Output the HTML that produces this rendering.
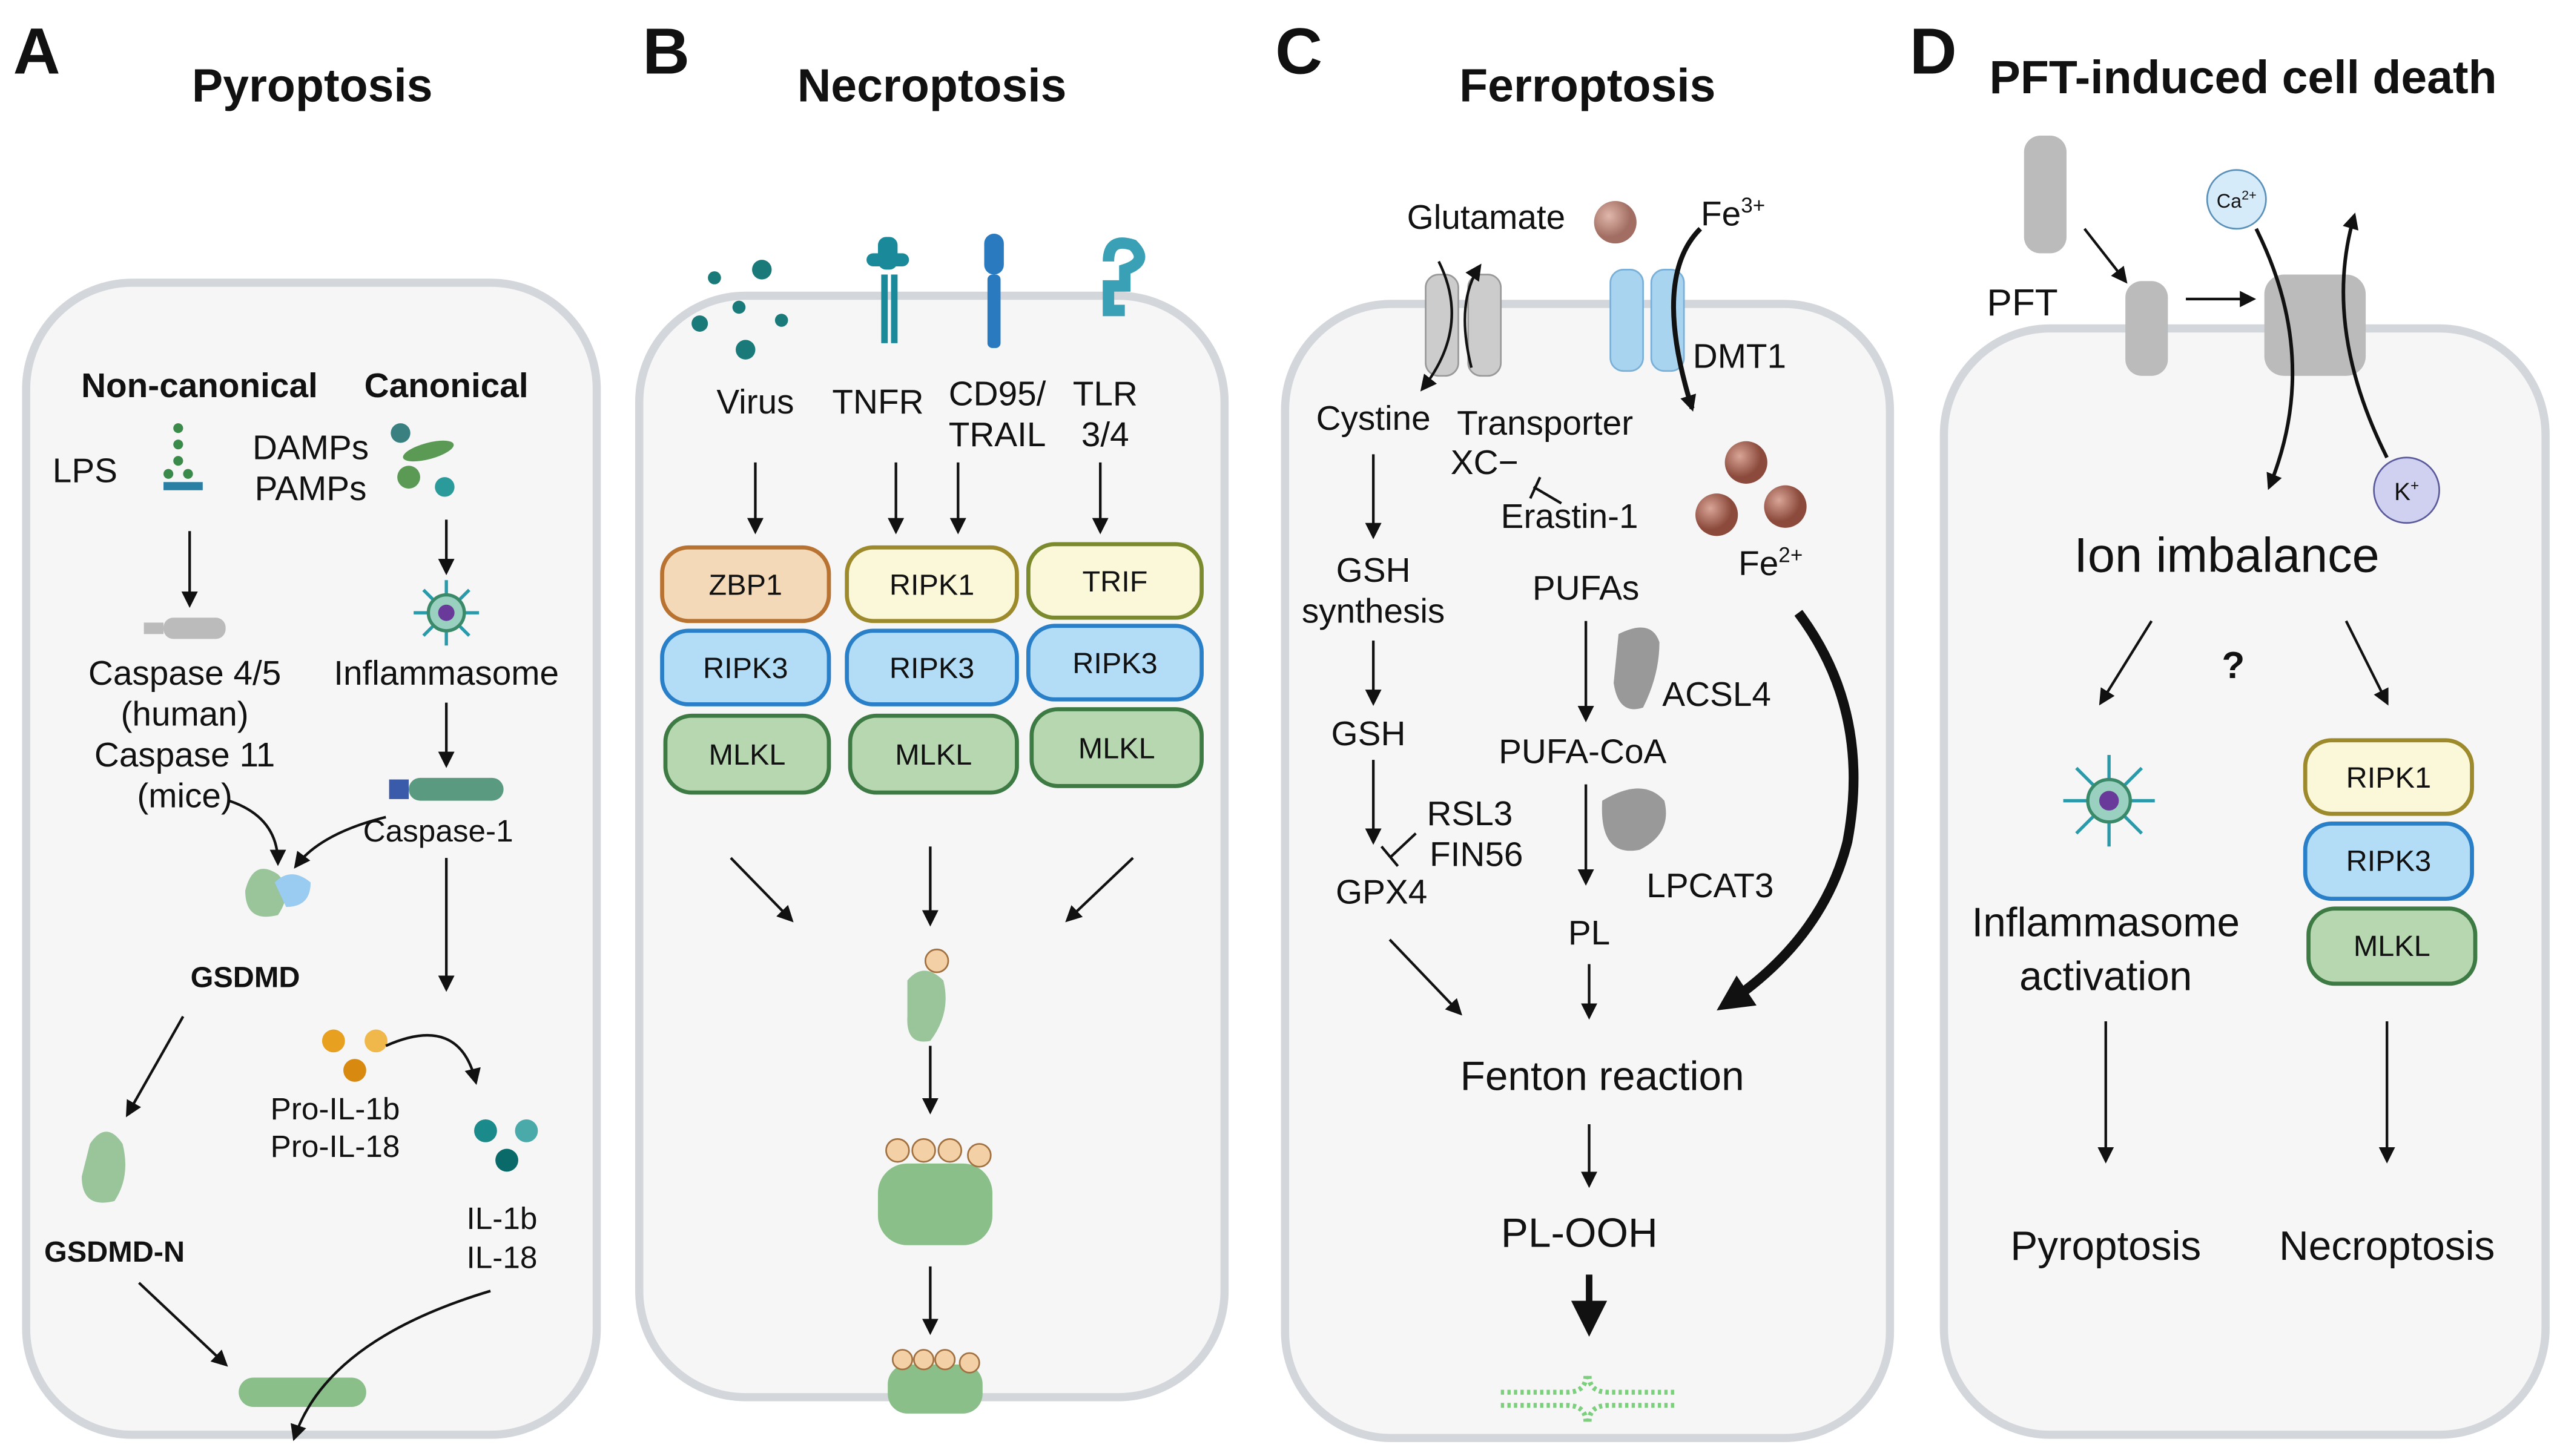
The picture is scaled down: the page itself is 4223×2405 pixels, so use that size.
<!DOCTYPE html>
<html><head><meta charset="utf-8"><style>
html,body{margin:0;padding:0;background:#fff}
svg{display:block}
text{font-family:"Liberation Sans",sans-serif;fill:#111}
</style></head><body>
<svg width="4223" height="2405" viewBox="0 0 1564 891" preserveAspectRatio="none" xmlns="http://www.w3.org/2000/svg">
<defs>
<marker id="ah" markerWidth="10" markerHeight="10" refX="8" refY="5" orient="auto" markerUnits="userSpaceOnUse"><path d="M0,0 L10,5 L0,10 z" fill="#111"/></marker>
<marker id="ahb" markerWidth="22" markerHeight="22" refX="16" refY="11" orient="auto" markerUnits="userSpaceOnUse"><path d="M0,0 L22,11 L0,22 z" fill="#111"/></marker>
<radialGradient id="fe" cx="0.35" cy="0.35"><stop offset="0" stop-color="#d9a596"/><stop offset="1" stop-color="#8b4a3c"/></radialGradient>
</defs>
<g fill="#f6f6f6" stroke="#d3d7db" stroke-width="5">
<rect x="16" y="173" width="349" height="705" rx="65"/>
<rect x="391" y="181" width="358" height="674" rx="65"/>
<rect x="786" y="186" width="370" height="694" rx="65"/>
<rect x="1189" y="201" width="368" height="677" rx="65"/>
</g>
<g font-weight="bold" font-size="40"><text x="8" y="45">A</text><text x="393" y="45">B</text><text x="780" y="45">C</text><text x="1168" y="45">D</text></g>
<g font-weight="bold" font-size="28.5" text-anchor="middle"><text x="191" y="62">Pyroptosis</text><text x="570" y="62">Necroptosis</text><text x="971" y="62">Ferroptosis</text><text x="1372" y="57">PFT-induced cell death</text></g>

<!-- Panel A -->
<g font-size="21" text-anchor="middle">
<text x="122" y="243" font-weight="bold">Non-canonical</text><text x="273" y="243" font-weight="bold">Canonical</text>
<text x="52" y="295">LPS</text><text x="190" y="281">DAMPs</text><text x="190" y="306">PAMPs</text>
<text x="113" y="419">Caspase 4/5</text><text x="113" y="444">(human)</text><text x="113" y="469">Caspase 11</text><text x="113" y="494">(mice)</text>
<text x="273" y="419">Inflammasome</text><text x="268" y="515" font-size="19">Caspase-1</text>
<text x="150" y="604" font-weight="bold" font-size="18">GSDMD</text>
<text x="205" y="685" font-size="19">Pro-IL-1b</text><text x="205" y="708" font-size="19">Pro-IL-18</text>
<text x="307" y="752" font-size="19">IL-1b</text><text x="307" y="776" font-size="19">IL-18</text>
<text x="70" y="772" font-weight="bold" font-size="18">GSDMD-N</text>
</g>
<g fill="#3a8a4a"><circle cx="109" cy="262" r="3"/><circle cx="109" cy="272" r="3"/><circle cx="109" cy="282" r="3"/><circle cx="115" cy="290" r="3"/><circle cx="103" cy="290" r="3"/></g>
<rect x="100" y="295" width="24" height="5" fill="#2a7fa5"/>
<g fill="#5a9a55"><ellipse cx="262" cy="276" rx="16" ry="5" transform="rotate(-15 262 276)"/><circle cx="250" cy="292" r="7"/><circle cx="272" cy="298" r="6" fill="#2a9a9a"/><circle cx="245" cy="265" r="6" fill="#3a8080"/></g>
<g fill="#bbb"><rect x="88" y="381" width="12" height="7"/><rect x="100" y="378" width="38" height="13" rx="6"/></g>
<g stroke="#2a9aaa" stroke-width="2"><line x1="253" y1="375" x2="293" y2="375"/><line x1="273" y1="355" x2="273" y2="395"/><line x1="259" y1="361" x2="287" y2="389"/><line x1="287" y1="361" x2="259" y2="389"/></g>
<circle cx="273" cy="375" r="11" fill="#9ad0c0" stroke="#3a8a6a" stroke-width="2"/><circle cx="273" cy="375" r="5" fill="#6a3a9a"/>
<rect x="238" y="477" width="12" height="12" fill="#3a5aaa"/><rect x="250" y="476" width="58" height="14" rx="7" fill="#5a9a80"/>
<path d="M150,545 q5,-20 20,-10 q10,10 0,25 q-20,5 -20,-15z" fill="#9ac49a"/><path d="M168,540 q10,-10 22,0 q0,15 -15,15z" fill="#9acbf0"/>
<g fill="#e8a020"><circle cx="204" cy="637" r="7"/><circle cx="230" cy="637" r="7" fill="#f0b84a"/><circle cx="217" cy="655" r="7" fill="#d88a10"/></g>
<g fill="#1a8a8a"><circle cx="297" cy="692" r="7"/><circle cx="322" cy="692" r="7" fill="#4aaaaa"/><circle cx="310" cy="710" r="7" fill="#0a6a6a"/></g>
<path d="M55,700 q10,-15 20,0 q5,20 -5,35 q-20,5 -20,-15z" fill="#9ac49a"/>
<g fill="#8abf8a"><rect x="146" y="843" width="78" height="18" rx="9"/></g>
<g stroke="#111" stroke-width="1.6" fill="none" marker-end="url(#ah)">
<line x1="116" y1="325" x2="116" y2="370"/><line x1="273" y1="318" x2="273" y2="350"/><line x1="273" y1="430" x2="273" y2="468"/>
<path d="M140,490 q30,10 30,38"/><path d="M236,500 q-40,10 -55,30"/>
<line x1="273" y1="525" x2="273" y2="605"/><path d="M236,640 q45,-20 55,22"/>
<line x1="112" y1="622" x2="78" y2="682"/><line x1="85" y1="785" x2="138" y2="835"/><path d="M300,790 q-100,30 -120,90"/>
</g>

<!-- Panel B -->
<g fill="#1a7a7a"><circle cx="437" cy="170" r="4"/><circle cx="466" cy="165" r="6"/><circle cx="452" cy="188" r="4"/><circle cx="428" cy="198" r="5"/><circle cx="478" cy="196" r="4"/><circle cx="456" cy="214" r="6"/></g>
<g fill="#1a8a9a"><rect x="537" y="145" width="12" height="20" rx="5"/><rect x="539" y="168" width="4" height="42"/><rect x="545" y="168" width="4" height="42"/><rect x="530" y="155" width="26" height="8" rx="4"/></g>
<g fill="#2a7ac0"><rect x="602" y="143" width="12" height="25" rx="6"/><rect x="604" y="168" width="8" height="45" rx="3"/></g>
<path d="M678,160 q0,-15 15,-10 q10,10 -5,15 l0,10 l-10,0 l0,15 l10,0" fill="none" stroke="#3aa0b5" stroke-width="7"/>
<g font-size="21" text-anchor="middle">
<text x="462" y="253">Virus</text><text x="537" y="253">TNFR</text><text x="610" y="248">CD95/</text><text x="610" y="273">TRAIL</text><text x="676" y="248">TLR</text><text x="676" y="273">3/4</text>
</g>
<g stroke-width="2.5">
<rect x="405" y="335" width="102" height="45" rx="16" fill="#f3d9b7" stroke="#b87333"/>
<rect x="405" y="386" width="102" height="45" rx="16" fill="#b3dcf6" stroke="#2a7fc9"/>
<rect x="407" y="438" width="100" height="47" rx="16" fill="#b6d7b0" stroke="#3e7b44"/>
<rect x="518" y="335" width="104" height="45" rx="16" fill="#fbf8d9" stroke="#9d8a2d"/>
<rect x="518" y="386" width="104" height="45" rx="16" fill="#b3dcf6" stroke="#2a7fc9"/>
<rect x="520" y="438" width="102" height="47" rx="16" fill="#b6d7b0" stroke="#3e7b44"/>
<rect x="629" y="333" width="106" height="45" rx="16" fill="#fbf8d9" stroke="#7a8a2d"/>
<rect x="629" y="383" width="106" height="45" rx="16" fill="#b3dcf6" stroke="#2a7fc9"/>
<rect x="631" y="434" width="104" height="47" rx="16" fill="#b6d7b0" stroke="#3e7b44"/>
</g>
<g font-size="18" text-anchor="middle">
<text x="456" y="364">ZBP1</text><text x="456" y="415">RIPK3</text><text x="457" y="468">MLKL</text>
<text x="570" y="364">RIPK1</text><text x="570" y="415">RIPK3</text><text x="571" y="468">MLKL</text>
<text x="682" y="362">TRIF</text><text x="682" y="412">RIPK3</text><text x="683" y="464">MLKL</text>
</g>
<g stroke="#111" stroke-width="1.6" fill="none" marker-end="url(#ah)">
<line x1="462" y1="283" x2="462" y2="325"/><line x1="548" y1="283" x2="548" y2="325"/><line x1="586" y1="283" x2="586" y2="325"/><line x1="673" y1="283" x2="673" y2="325"/>
<line x1="447" y1="525" x2="484" y2="563"/><line x1="569" y1="518" x2="569" y2="565"/><line x1="693" y1="525" x2="653" y2="563"/>
<line x1="569" y1="640" x2="569" y2="680"/><line x1="569" y1="775" x2="569" y2="815"/>
</g>
<path d="M555,600 q10,-12 22,0 q5,20 -8,37 q-15,3 -14,-15z" fill="#9ac49a"/><circle cx="573" cy="588" r="7" fill="#f3d0a5" stroke="#a07040"/>
<rect x="537" y="712" width="70" height="50" rx="18" fill="#8abf8a"/>
<g fill="#f3d0a5" stroke="#a07040"><circle cx="549" cy="704" r="7"/><circle cx="565" cy="704" r="7"/><circle cx="581" cy="704" r="7"/><circle cx="599" cy="707" r="7"/></g>
<rect x="543" y="835" width="58" height="30" rx="12" fill="#8abf8a"/>
<g fill="#f3d0a5" stroke="#a07040"><circle cx="552" cy="832" r="6"/><circle cx="565" cy="832" r="6"/><circle cx="578" cy="832" r="6"/><circle cx="593" cy="834" r="6"/></g>

<!-- Panel C -->
<g fill="#ccc" stroke="#999"><rect x="872" y="168" width="20" height="62" rx="8"/><rect x="898" y="168" width="20" height="62" rx="8"/></g>
<g fill="#a8d4f0" stroke="#7ab0d8"><rect x="985" y="165" width="20" height="62" rx="8"/><rect x="1010" y="165" width="20" height="62" rx="8"/></g>
<circle cx="988" cy="136" r="13" fill="url(#fe)" opacity="0.8"/>
<circle cx="1068" cy="283" r="13" fill="url(#fe)"/><circle cx="1050" cy="315" r="13" fill="url(#fe)"/><circle cx="1092" cy="310" r="13" fill="url(#fe)"/>
<path d="M990,388 q20,-10 25,5 q0,20 -10,40 q-15,5 -18,-15z" fill="#999"/>
<path d="M980,490 q25,-15 38,0 q5,20 -15,30 q-25,5 -23,-30z" fill="#999"/>
<g font-size="21" text-anchor="middle">
<text x="909" y="140">Glutamate</text><text x="1060" y="138">Fe<tspan font-size="13" dy="-8">3+</tspan></text>
<text x="1064" y="225">DMT1</text><text x="840" y="263">Cystine</text><text x="945" y="266">Transporter</text><text x="908" y="290">XC−</text>
<text x="960" y="323">Erastin-1</text><text x="1083" y="352">Fe<tspan font-size="13" dy="-8">2+</tspan></text>
<text x="840" y="356">GSH</text><text x="840" y="381">synthesis</text><text x="837" y="456">GSH</text>
<text x="899" y="505">RSL3</text><text x="903" y="530">FIN56</text><text x="845" y="553">GPX4</text>
<text x="970" y="367">PUFAs</text><text x="1050" y="432">ACSL4</text><text x="968" y="467">PUFA-CoA</text><text x="1046" y="549">LPCAT3</text><text x="972" y="578">PL</text>
<text x="980" y="667" font-size="25">Fenton reaction</text><text x="966" y="763" font-size="25">PL-OOH</text>
</g>
<g stroke="#111" stroke-width="1.6" fill="none" marker-end="url(#ah)">
<path d="M900,225 q-10,-40 5,-62"/><path d="M880,160 q20,40 -10,78"/>
<path d="M1040,140 q-30,30 -5,110" stroke-width="3"/>
<line x1="840" y1="278" x2="840" y2="328"/><line x1="840" y1="392" x2="840" y2="430"/><line x1="840" y1="465" x2="840" y2="515"/>
<line x1="970" y1="380" x2="970" y2="440"/><line x1="970" y1="480" x2="970" y2="540"/><line x1="972" y1="590" x2="972" y2="622"/>
<line x1="850" y1="575" x2="893" y2="620"/><line x1="972" y1="688" x2="972" y2="725"/>
</g>
<g stroke="#111" stroke-width="1.6"><line x1="866" y1="510" x2="850" y2="525"/><line x1="845" y1="518" x2="855" y2="530"/><line x1="938" y1="298" x2="955" y2="308"/><line x1="936" y1="305" x2="942" y2="292"/></g>
<path d="M1100,375 q45,60 30,140 q-15,60 -75,100" fill="none" stroke="#111" stroke-width="6" marker-end="url(#ahb)"/>
<line x1="972" y1="780" x2="972" y2="812" stroke="#111" stroke-width="4" marker-end="url(#ahb)"/>
<g stroke="#7ccf7c" stroke-width="3" stroke-dasharray="2 2" fill="none"><path d="M918,852 h40 q12,0 12,-10"/><path d="M918,860 h40 q12,0 12,10"/><path d="M1024,852 h-40 q-12,0 -12,-10"/><path d="M1024,860 h-40 q-12,0 -12,10"/></g>

<!-- Panel D -->
<g fill="#bbb"><rect x="1238" y="83" width="26" height="72" rx="10"/><rect x="1300" y="172" width="26" height="58" rx="10"/><rect x="1385" y="168" width="62" height="62" rx="12"/></g>
<circle cx="1368" cy="122" r="18" fill="#d6ebf9" stroke="#5a8fb8"/><text x="1368" y="127" font-size="12" text-anchor="middle">Ca<tspan font-size="8" dy="-5">2+</tspan></text>
<circle cx="1472" cy="300" r="20" fill="#d0d0f0" stroke="#5a5a9a"/><text x="1472" y="306" font-size="15" text-anchor="middle">K<tspan font-size="9" dy="-6">+</tspan></text>
<g font-size="23" text-anchor="middle"><text x="1237" y="193">PFT</text><text x="1362" y="350" font-size="30">Ion imbalance</text><text x="1366" y="415" font-weight="bold">?</text>
<text x="1288" y="573" font-size="25">Inflammasome</text><text x="1288" y="606" font-size="25">activation</text>
<text x="1288" y="771" font-size="25">Pyroptosis</text><text x="1460" y="771" font-size="25">Necroptosis</text></g>
<g stroke="#111" stroke-width="1.6" fill="none" marker-end="url(#ah)">
<line x1="1275" y1="140" x2="1300" y2="172"/><line x1="1337" y1="183" x2="1378" y2="183"/>
<path d="M1380,140 q40,80 8,158" stroke-width="2.2"/><path d="M1460,280 q-40,-80 -20,-148" stroke-width="2.2"/>
<line x1="1316" y1="380" x2="1285" y2="430"/><line x1="1435" y1="380" x2="1460" y2="430"/>
<line x1="1288" y1="625" x2="1288" y2="710"/><line x1="1460" y1="625" x2="1460" y2="710"/>
</g>
<g stroke="#2a9aaa" stroke-width="2"><line x1="1262" y1="490" x2="1318" y2="490"/><line x1="1290" y1="462" x2="1290" y2="518"/><line x1="1270" y1="470" x2="1310" y2="510"/><line x1="1310" y1="470" x2="1270" y2="510"/></g>
<circle cx="1290" cy="490" r="13" fill="#9ad0c0" stroke="#3a8a6a" stroke-width="2"/><circle cx="1290" cy="490" r="6" fill="#6a3a9a"/>
<g stroke-width="2.5">
<rect x="1410" y="453" width="102" height="45" rx="16" fill="#fbf8d9" stroke="#9d8a2d"/>
<rect x="1410" y="504" width="102" height="46" rx="16" fill="#b3dcf6" stroke="#2a7fc9"/>
<rect x="1412" y="556" width="102" height="46" rx="16" fill="#b6d7b0" stroke="#3e7b44"/>
</g>
<g font-size="18" text-anchor="middle"><text x="1461" y="482">RIPK1</text><text x="1461" y="533">RIPK3</text><text x="1463" y="585">MLKL</text></g>
</svg>
</body></html>
